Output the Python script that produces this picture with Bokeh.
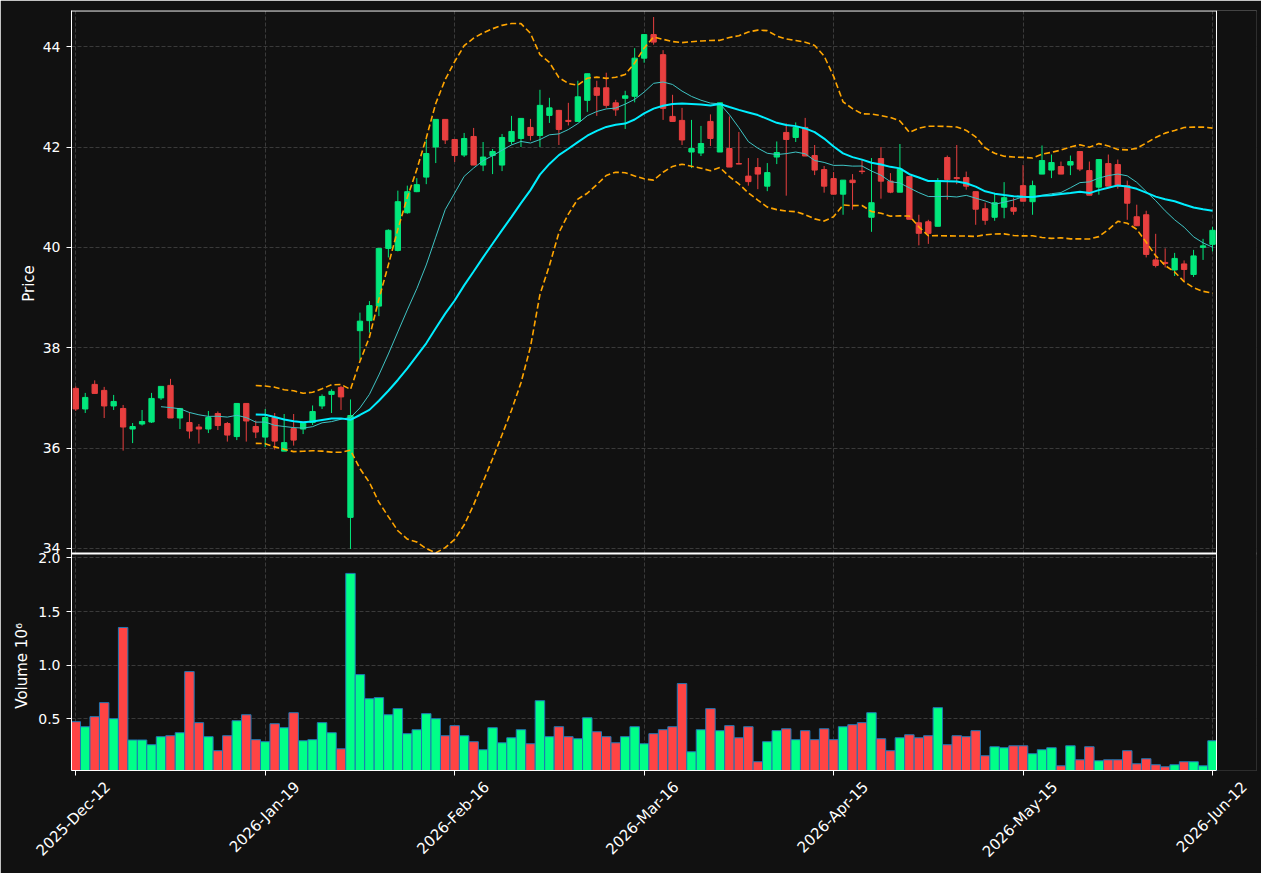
import math
import numpy as np
import pandas as pd
from bokeh.plotting import figure
from bokeh.models import (Range1d, FixedTicker, ColumnDataSource, Span, LinearAxis,
                          BoxAnnotation)
from bokeh.embed import file_html
from bokeh.resources import INLINE

opens = [37.19, 36.78, 37.27, 37.15, 36.84, 36.79, 36.38, 36.48, 36.52, 37.00,
         37.25, 36.60, 36.51, 36.42, 36.38, 36.69, 36.49, 36.23, 36.89, 36.43,
         36.22, 36.61, 35.94, 36.39, 36.38, 36.51, 36.84, 37.07, 37.21, 34.62,
         38.34, 38.54, 38.83, 39.98, 39.94, 40.69, 41.11, 41.40, 42.00, 42.55,
         42.15, 41.84, 42.21, 41.64, 41.83, 41.64, 42.11, 42.17, 42.39, 42.23,
         42.63, 42.73, 42.53, 42.51, 42.93, 43.18, 43.18, 42.88, 42.97, 43.01,
         43.77, 44.24, 43.84, 42.61, 42.53, 41.90, 41.88, 42.51, 41.90, 41.97,
         41.67, 41.42, 41.59, 41.22, 41.80, 42.29, 42.19, 42.39, 41.83, 41.55,
         41.37, 41.06, 41.34, 41.52, 40.60, 41.77, 41.32, 41.10, 41.41, 40.49,
         40.51, 40.42, 41.79, 41.39, 41.39, 41.11, 40.77, 40.60, 40.80, 40.79,
         41.23, 40.91, 41.46, 41.54, 41.61, 41.64, 41.91, 41.53, 41.20, 41.67,
         41.65, 41.23, 40.61, 40.65, 39.75, 39.70, 39.55, 39.67, 39.46, 40.00,
         40.06]
closes = [36.78, 37.01, 37.09, 36.84, 36.93, 36.42, 36.43, 36.53, 36.99, 37.23,
          36.60, 36.79, 36.34, 36.38, 36.61, 36.45, 36.26, 36.89, 36.54, 36.32,
          36.61, 36.14, 36.11, 36.16, 36.51, 36.73, 37.03, 37.13, 37.02, 36.65,
          38.53, 38.84, 39.98, 40.34, 40.91, 41.11, 41.25, 41.87, 42.55, 42.14,
          41.83, 42.17, 41.64, 41.80, 41.91, 42.19, 42.31, 42.57, 42.23, 42.83,
          42.78, 42.35, 42.51, 43.00, 43.46, 43.03, 42.83, 42.74, 43.02, 43.77,
          44.24, 44.09, 42.77, 42.51, 42.14, 41.97, 42.07, 42.17, 42.88, 41.60,
          41.66, 41.31, 41.46, 41.49, 41.89, 42.15, 42.39, 41.82, 41.54, 41.22,
          41.06, 41.34, 41.29, 41.51, 40.89, 41.32, 41.10, 41.56, 40.56, 40.28,
          40.28, 41.33, 41.35, 41.37, 41.22, 40.76, 40.54, 40.89, 40.99, 40.72,
          40.92, 41.23, 41.73, 41.69, 41.46, 41.71, 41.56, 41.04, 41.75, 41.22,
          41.22, 40.88, 40.43, 39.86, 39.64, 39.68, 39.78, 39.56, 39.83, 40.03,
          40.34]
highs = [37.23, 37.10, 37.35, 37.22, 37.06, 36.86, 36.50, 36.76, 37.10, 37.23,
         37.38, 36.80, 36.72, 36.48, 36.74, 36.73, 36.52, 36.89, 36.89, 36.55,
         36.78, 36.70, 36.68, 36.68, 36.51, 36.85, 37.07, 37.17, 37.24, 36.97,
         38.70, 38.93, 39.98, 40.36, 41.13, 41.23, 41.38, 42.15, 42.55, 42.55,
         42.15, 42.28, 42.38, 42.10, 41.96, 42.26, 42.62, 42.57, 42.56, 43.14,
         42.98, 42.74, 42.88, 43.32, 43.46, 43.32, 43.48, 42.94, 43.12, 43.97,
         44.25, 44.59, 43.93, 43.04, 42.78, 42.54, 42.42, 42.65, 42.88, 42.61,
         42.30, 41.78, 41.78, 41.68, 42.11, 42.47, 42.49, 42.58, 42.04, 41.62,
         41.50, 41.34, 41.46, 41.75, 41.78, 42.00, 41.48, 42.06, 41.41, 40.65,
         40.55, 41.38, 41.83, 42.04, 41.51, 41.11, 40.89, 41.09, 41.30, 40.99,
         41.64, 41.33, 42.03, 41.85, 41.71, 41.83, 41.91, 41.71, 41.75, 41.85,
         41.75, 41.33, 40.85, 40.73, 40.27, 39.98, 39.89, 39.74, 39.95, 40.17,
         40.41]
lows = [36.74, 36.70, 37.09, 36.60, 36.76, 35.95, 36.10, 36.45, 36.50, 36.96,
        36.60, 36.38, 36.19, 36.09, 36.30, 36.36, 36.13, 36.16, 36.13, 36.20,
        36.02, 35.97, 35.94, 36.05, 36.28, 36.46, 36.78, 36.70, 36.76, 33.99,
        37.76, 38.30, 38.63, 39.80, 39.92, 40.67, 41.10, 41.26, 41.68, 42.06,
        41.70, 41.80, 41.64, 41.52, 41.46, 41.52, 42.05, 42.00, 42.13, 42.00,
        42.48, 42.04, 42.43, 42.51, 42.70, 42.62, 42.78, 42.62, 42.36, 42.89,
        43.68, 44.04, 42.54, 42.51, 42.04, 41.58, 41.82, 42.02, 41.90, 41.60,
        41.66, 41.23, 41.16, 41.12, 41.66, 41.03, 42.10, 41.82, 41.44, 41.09,
        41.06, 40.65, 40.75, 41.46, 40.31, 40.97, 41.08, 41.10, 40.56, 40.04,
        40.07, 40.42, 40.95, 41.26, 41.15, 40.45, 40.45, 40.53, 40.58, 40.65,
        40.92, 40.65, 41.46, 41.38, 41.46, 41.44, 41.52, 41.04, 41.05, 41.22,
        41.17, 40.55, 40.43, 39.80, 39.60, 39.60, 39.43, 39.33, 39.41, 39.75,
        39.92]
volumes_m = [0.471, 0.424, 0.518, 0.649, 0.499, 1.351, 0.300, 0.300, 0.256, 0.331,
             0.340, 0.368, 0.939, 0.462, 0.331, 0.200, 0.340, 0.480, 0.536, 0.303,
             0.284, 0.452, 0.415, 0.555, 0.293, 0.303, 0.462, 0.368, 0.218, 1.856,
             0.911, 0.686, 0.696, 0.536, 0.593, 0.359, 0.396, 0.546, 0.499, 0.340,
             0.434, 0.340, 0.284, 0.209, 0.415, 0.274, 0.321, 0.396, 0.265, 0.667,
             0.331, 0.424, 0.331, 0.312, 0.508, 0.377, 0.331, 0.274, 0.331, 0.424,
             0.265, 0.359, 0.396, 0.424, 0.827, 0.190, 0.396, 0.593, 0.387, 0.434,
             0.321, 0.424, 0.097, 0.284, 0.387, 0.405, 0.303, 0.387, 0.303, 0.405,
             0.303, 0.424, 0.443, 0.462, 0.555, 0.312, 0.200, 0.321, 0.349, 0.321,
             0.340, 0.602, 0.256, 0.340, 0.331, 0.387, 0.153, 0.237, 0.228, 0.246,
             0.246, 0.172, 0.209, 0.228, 0.059, 0.246, 0.115, 0.237, 0.106, 0.115,
             0.115, 0.200, 0.078, 0.125, 0.069, 0.050, 0.069, 0.097, 0.097, 0.059,
             0.293]
tick_idx = [0, 20, 40, 60, 80, 100, 120]
tick_labels = ["2025-Dec-12", "2026-Jan-19", "2026-Feb-16", "2026-Mar-16",
               "2026-Apr-15", "2026-May-15", "2026-Jun-12"]
price_ticks = [34, 36, 38, 40, 42, 44]
vol_ticks = [0.5, 1.0, 1.5, 2.0]
axis_titles = ["Price", "Volume  10⁶"]

BG = "#111111"
GRID = "#3a3a3a"
FONT = "DejaVu Sans"
UP_C, DN_C = "#02e77c", "#e73f3f"
UP_V, DN_V = "#00ff88", "#ff4444"

# ---- layout geometry (pixels) ----
W, H = 1261, 873
LEFT, RIGHT, TOP, BOTTOM = 71, 45, 10, 103
RIGHT_CANVAS = 5                      # frame runs a little past the visible panel
FRAME_H = H - TOP - BOTTOM            # 760
PRICE_H = 542
VOL_H = 217
P_LO, P_HI = 33.92, 44.72
V_LO, V_HI = 0.015, 2.042
X_LO, X_HI = -0.45, 120.42

p_scale = PRICE_H / (P_HI - P_LO)
P_BOTTOM = P_HI - FRAME_H / p_scale
v_scale = VOL_H / (V_HI - V_LO)
V_TOP = V_LO + FRAME_H / v_scale
x_scale = (W - LEFT - RIGHT) / (X_HI - X_LO)
X_END = X_LO + (W - LEFT - RIGHT_CANVAS) / x_scale


def py(pix):  # canvas pixel row -> price coordinate
    return P_HI - (pix - TOP) / p_scale


def vol_to_price(v):
    return P_BOTTOM + (v - V_LO) / (V_TOP - V_LO) * (P_HI - P_BOTTOM)


n = len(closes)
x = list(range(n))
up = [c >= o for o, c in zip(opens, closes)]
cs = pd.Series(closes)
sma10 = cs.rolling(10).mean()
sma20 = cs.rolling(20).mean()
std20 = cs.rolling(20).std()
bb_up = sma20 + 2 * std20
bb_dn = sma20 - 2 * std20

src = ColumnDataSource(dict(
    x=x, open=opens, close=closes, high=highs, low=lows,
    top=[max(o, c) for o, c in zip(opens, closes)],
    bottom=[min(o, c) for o, c in zip(opens, closes)],
    ccolor=[UP_C if u else DN_C for u in up],
    vcolor=[UP_V if u else DN_V for u in up],
    vol=volumes_m,
))
ind = ColumnDataSource(dict(x=x, sma10=sma10.values, sma20=sma20.values,
                            bbu=bb_up.values, bbd=bb_dn.values))

p = figure(width=W, height=H, x_range=Range1d(X_LO, X_END),
           y_range=Range1d(P_BOTTOM, P_HI),
           output_backend="svg", toolbar_location=None,
           min_border_left=LEFT, min_border_right=RIGHT_CANVAS, min_border_top=TOP,
           min_border_bottom=BOTTOM, background_fill_color=BG, border_fill_color=BG)
p.outline_line_color = None
p.extra_y_ranges = {"vol": Range1d(V_LO, V_TOP)}


def style(ax, size="14px"):
    ax.major_tick_line_color = "white"
    ax.minor_tick_line_color = None
    ax.major_tick_in = 0
    ax.major_label_text_color = "white"
    ax.major_label_text_font = FONT
    ax.major_label_text_font_size = size


# price / volume tick labels on one left axis
yt = [float(t) for t in price_ticks] + [vol_to_price(v) for v in vol_ticks]
ylabels = {float(t): str(t) for t in price_ticks}
ylabels.update({vol_to_price(v): f"{v:.1f}" for v in vol_ticks})
yax = p.yaxis[0]
yax.ticker = FixedTicker(ticks=yt)
yax.major_label_overrides = ylabels
style(yax)
yax.axis_line_color = "white"
yax.major_tick_out = 5
yax.major_label_standoff = 6

# panel titles on outer left axes
for txt, centre, stand in ((axis_titles[0], 283, -2), (axis_titles[1], 663, -14)):
    tax = LinearAxis(ticker=FixedTicker(ticks=[py(centre)]),
                     major_label_overrides={py(centre): txt},
                     major_label_orientation="vertical", major_tick_out=0,
                     axis_line_color=None, major_label_standoff=stand)
    style(tax, "15px")
    p.add_layout(tax, "left")

# x tick marks
xax = p.xaxis[0]
xax.ticker = FixedTicker(ticks=tick_idx)
xax.major_label_overrides = {i: "" for i in tick_idx}
style(xax, "1px")
xax.major_tick_out = 5
xax.major_label_standoff = 0
xax.axis_line_color = "white"
xax.bounds = (X_LO, X_HI)

# rotated date labels, centred on their ticks
DX = 32 / x_scale
lab_pos = [i + DX for i in tick_idx]
lax = LinearAxis(ticker=FixedTicker(ticks=lab_pos),
                 major_label_overrides={q: l for q, l in zip(lab_pos, tick_labels)},
                 major_label_orientation=math.pi / 4, major_tick_out=0,
                 axis_line_color=None, major_label_standoff=9)
style(lax, "15px")
p.add_layout(lax, "below")

p.grid.grid_line_color = GRID
p.grid.grid_line_dash = "4 2"
p.grid.grid_line_width = 1

# price panel
p.segment(x0="x", y0="low", x1="x", y1="high", color="ccolor", line_width=1, source=src)
p.vbar(x="x", width=0.56, top="top", bottom="bottom", fill_color="ccolor",
       line_color="ccolor", line_width=1, source=src)
p.line("x", "sma10", source=ind, color="#3fc4c4", line_width=1)
p.line("x", "sma20", source=ind, color="#00eeff", line_width=2)
p.line("x", "bbu", source=ind, color="#ffa500", line_width=1.6, line_dash="6 3")
p.line("x", "bbd", source=ind, color="#ffa500", line_width=1.6, line_dash="6 3")

# volume panel
p.vbar(x="x", width=1.0, top="vol", bottom=V_LO, fill_color="vcolor",
       line_color="#1f77b4", line_width=1, source=src, y_range_name="vol")

# separator between the panels and the top border (trimmed by the mask below)
p.add_layout(Span(location=py(553), dimension="width", line_color="white", line_width=2))
p.add_layout(Span(location=py(TOP + 0.5), dimension="width", line_color="white", line_width=1))
# hide the spare strip right of the panels
p.add_layout(BoxAnnotation(left=X_HI, right=X_END + 5, top=P_HI + 5, bottom=P_BOTTOM - 5,
                           fill_color=BG, fill_alpha=1, line_color=None, line_alpha=0))
# right border of the panels
p.add_layout(Span(location=X_HI, dimension="height", line_color="white", line_width=1))

open("out.html", "w").write(file_html(p, INLINE))
